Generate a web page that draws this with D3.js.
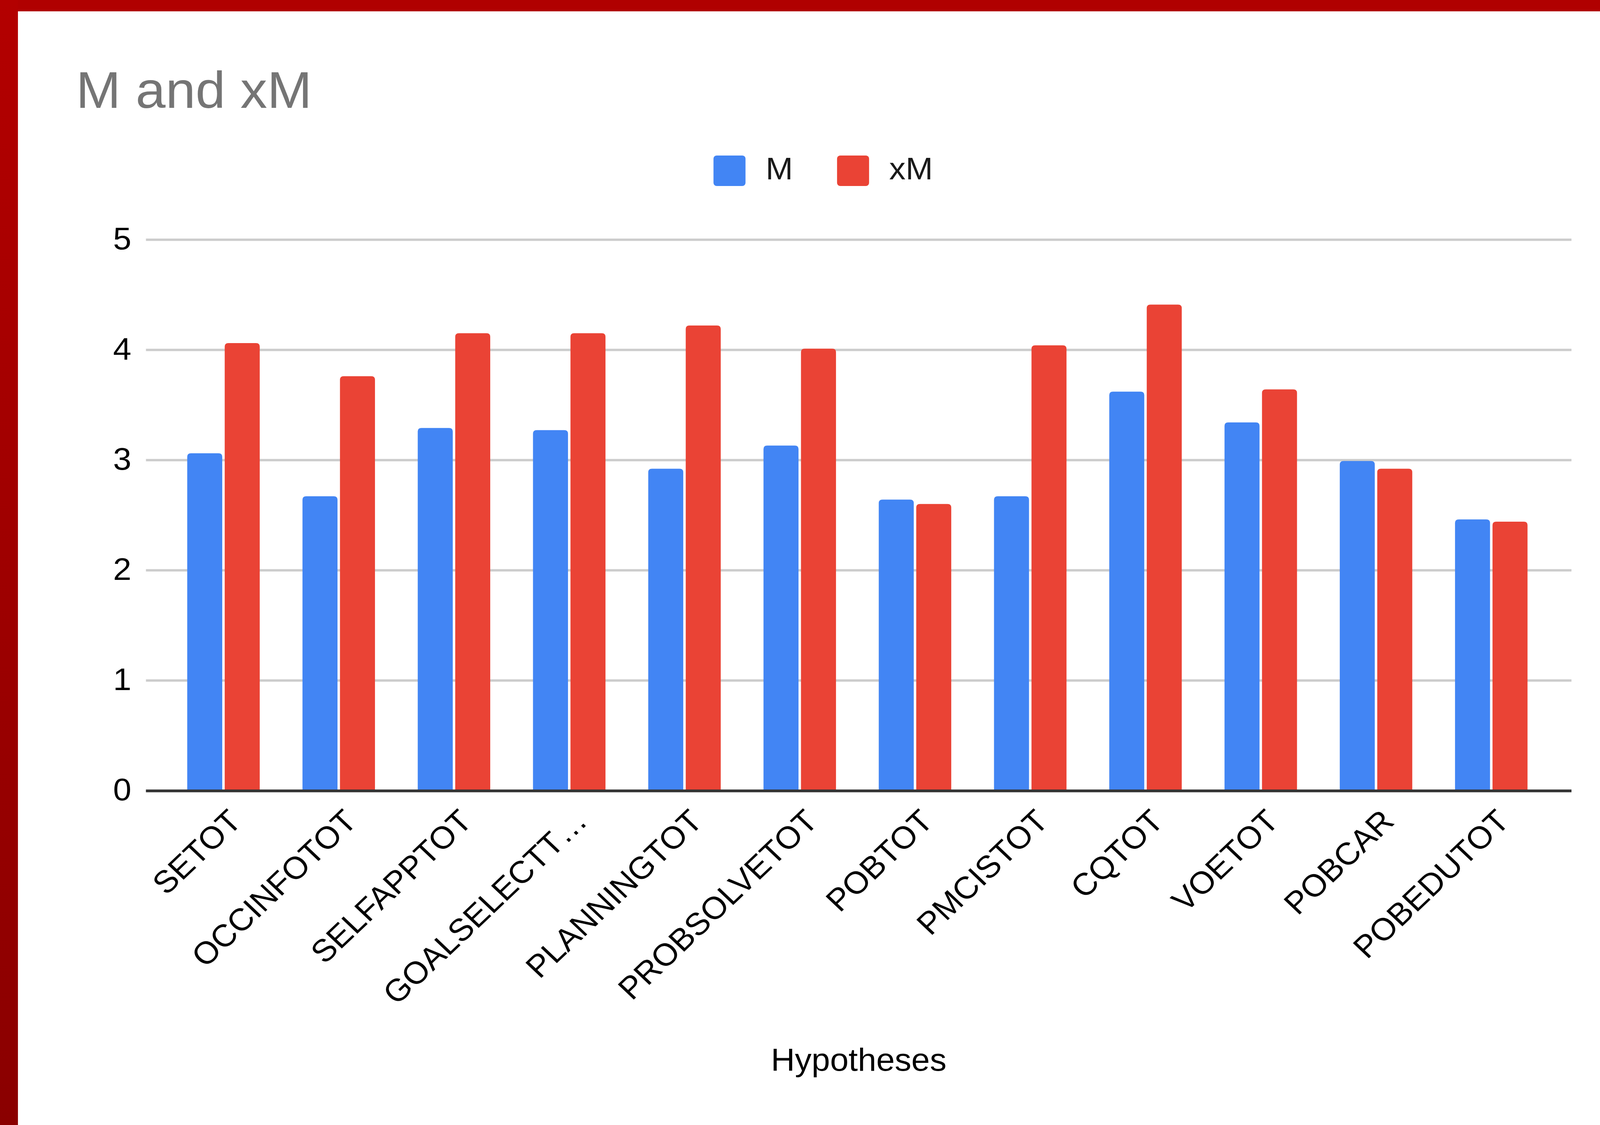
<!DOCTYPE html>
<html>
<head>
<meta charset="utf-8">
<script src="https://cdn.jsdelivr.net/npm/d3@7/dist/d3.min.js"></script>
<style>
  html, body { margin: 0; padding: 0; background: #fff; overflow: hidden; }
  svg { display: block; width: 100vw; height: 100vh; }
  text { font-family: 'Liberation Sans', Arial, sans-serif; }
</style>
</head>
<body>
<script>
// DATA
const categories = ['SETOT', 'OCCINFOTOT', 'SELFAPPTOT', 'GOALSELECTT\u2026', 'PLANNINGTOT',
  'PROBSOLVETOT', 'POBTOT', 'PMCISTOT', 'CQTOT', 'VOETOT', 'POBCAR', 'POBEDUTOT'];
const seriesNames = ['M', 'xM'];
const mValues = [3.06, 2.67, 3.29, 3.27, 2.92, 3.13, 2.64, 2.67, 3.62, 3.34, 2.99, 2.46];
const xmValues = [4.06, 3.76, 4.15, 4.15, 4.22, 4.01, 2.60, 4.04, 4.41, 3.64, 2.92, 2.44];
const yTicks = [0, 1, 2, 3, 4, 5];

const width = 4638;
const height = 2879;
// the picture is a bit wider than tall, so the chart is drawn in a narrower frame and stretched
const stretch = 1.19;
const colors = { M: '#4285f4', xM: '#ea4335' };

const rows = categories.map((c, i) => ({ cat: c, M: mValues[i], xM: xmValues[i] }));

// SVG (scales to whatever the window really is)
const svg = d3.select('body')
  .append('svg')
  .attr('viewBox', `0 0 ${width} ${height}`)
  .attr('preserveAspectRatio', 'none');

// RED FRAME
const grad = svg.append('defs')
  .append('linearGradient')
  .attr('id', 'frameGrad')
  .attr('x1', 0).attr('y1', 0).attr('x2', 0).attr('y2', 1);
grad.append('stop').attr('offset', '0%').attr('stop-color', '#b30000');
grad.append('stop').attr('offset', '100%').attr('stop-color', '#8a0000');

svg.append('rect')
  .attr('x', 0).attr('y', 0)
  .attr('width', width).attr('height', 29)
  .attr('fill', '#b00000');
svg.append('rect')
  .attr('x', 0).attr('y', 0)
  .attr('width', 52).attr('height', height)
  .attr('fill', 'url(#frameGrad)');

const chart = svg.append('g')
  .attr('transform', `scale(${stretch},1)`);

// TITLE
chart.append('text')
  .attr('x', 185)
  .attr('y', 276)
  .attr('font-size', 131)
  .attr('fill', '#757575')
  .text('M and xM');

// SCALES
const gridLeft = 355.5;
const gridRight = 3828;
const baseY = 2023;

const x0 = d3.scaleBand()
  .domain(categories)
  .range([404, 3773])
  .paddingInner(0.371)
  .paddingOuter(0.1855);

const x1 = d3.scaleBand()
  .domain(seriesNames)
  .range([0, x0.bandwidth()])
  .paddingInner(0.066);

const y = d3.scaleLinear()
  .domain([0, 5])
  .range([baseY, 613]);

// Y-AXIS + GRID
const yAxis = chart.append('g')
  .attr('transform', `translate(${gridLeft},0)`)
  .call(d3.axisLeft(y)
    .tickValues(yTicks)
    .tickSize(-(gridRight - gridLeft))
    .tickPadding(gridLeft - 320)
    .tickFormat(d3.format('d')));

yAxis.select('.domain').remove();
yAxis.selectAll('.tick line')
  .attr('stroke', '#cccccc')
  .attr('stroke-width', 6);
yAxis.selectAll('.tick text')
  .attr('font-size', 80)
  .attr('fill', '#000')
  .attr('dy', '0.3em')
  .style('font-family', "'Liberation Sans', Arial, sans-serif");

// BARS
function topRounded(x, yTop, w, h, r) {
  r = Math.min(r, h, w / 2);
  return `M${x},${yTop + h}V${yTop + r}Q${x},${yTop} ${x + r},${yTop}` +
    `H${x + w - r}Q${x + w},${yTop} ${x + w},${yTop + r}V${yTop + h}Z`;
}

chart.append('g')
  .selectAll('g')
  .data(rows)
  .join('g')
  .attr('transform', d => `translate(${x0(d.cat)},0)`)
  .selectAll('path')
  .data(d => seriesNames.map(s => ({ key: s, value: d[s] })))
  .join('path')
  .attr('fill', d => colors[d.key])
  .attr('d', d => topRounded(x1(d.key), y(d.value), x1.bandwidth(), baseY - y(d.value), 9));

// X-AXIS
const xAxis = chart.append('g')
  .attr('transform', `translate(0,${baseY})`)
  .call(d3.axisBottom(x0).tickSize(0));

xAxis.select('.domain').remove();
xAxis.selectAll('.tick text')
  .attr('x', 0)
  .attr('y', 0)
  .attr('dy', '0.85em')
  .attr('transform', 'translate(0,35) rotate(-45)')
  .attr('font-size', 80)
  .attr('fill', '#000')
  .style('text-anchor', 'end')
  .style('font-family', "'Liberation Sans', Arial, sans-serif");

chart.append('line')
  .attr('x1', gridLeft)
  .attr('x2', gridRight)
  .attr('y1', baseY + 1)
  .attr('y2', baseY + 1)
  .attr('stroke', '#333333')
  .attr('stroke-width', 7);

// AXIS TITLE
chart.append('text')
  .attr('x', (gridLeft + gridRight) / 2)
  .attr('y', 2740)
  .attr('font-size', 81)
  .attr('fill', '#000')
  .attr('text-anchor', 'middle')
  .text('Hypotheses');

// LEGEND
const legend = chart.append('g')
  .selectAll('g')
  .data(seriesNames)
  .join('g')
  .attr('transform', (d, i) => `translate(${1738 + i * 301},398)`);

legend.append('rect')
  .attr('width', 78)
  .attr('height', 78)
  .attr('rx', 8)
  .attr('fill', d => colors[d]);

legend.append('text')
  .attr('x', 127)
  .attr('y', 61)
  .attr('font-size', 80)
  .attr('fill', '#1a1a1a')
  .text(d => d);
</script>
</body>
</html>
